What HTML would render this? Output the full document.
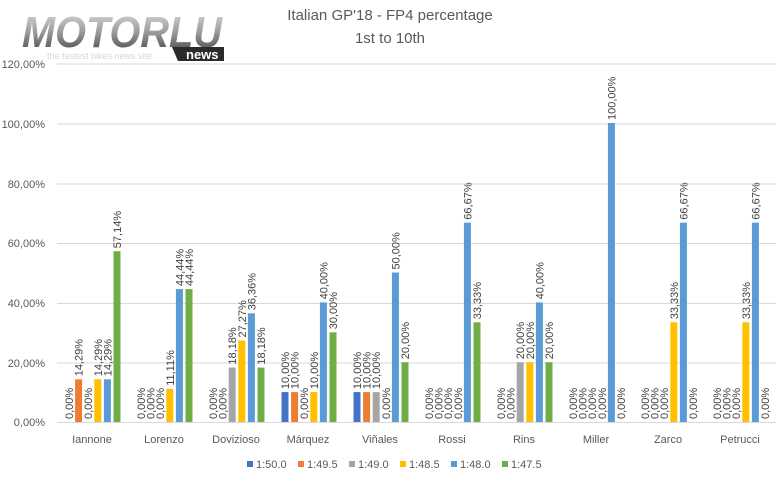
<!DOCTYPE html>
<html><head><meta charset="utf-8"><style>
body{margin:0;background:#fff}
svg{display:block;font-family:"Liberation Sans",sans-serif}
.l text{font-size:11px;fill:#404040}
</style></head><body>
<svg width="779" height="499" viewBox="0 0 779 499" xmlns="http://www.w3.org/2000/svg">
<rect width="779" height="499" fill="#fff"/>
<defs><linearGradient id="lg" x1="0" y1="0" x2="0" y2="1"><stop offset="0" stop-color="#e0e0e0"/><stop offset="0.5" stop-color="#9a9a9a"/><stop offset="1" stop-color="#3a3a3a"/></linearGradient></defs>
<text x="22" y="47" font-size="44" font-weight="bold" font-style="italic" fill="url(#lg)" textLength="200" lengthAdjust="spacingAndGlyphs">MOTORLU</text>
<text x="47" y="59" font-size="9" fill="#d8d8d8">the fastest bikes news site</text>
<polygon points="172,47 224,47 224,61 178,61" fill="#2a2a2a"/>
<text x="186" y="59" font-size="13" font-weight="bold" fill="#fff">news</text>
<text x="390" y="20" text-anchor="middle" font-size="15" fill="#595959">Italian GP'18 - FP4 percentage</text>
<text x="390" y="43" text-anchor="middle" font-size="15" fill="#595959">1st to 10th</text>
<g stroke="#d9d9d9" stroke-width="1">
<line x1="57" x2="776" y1="64" y2="64"/><line x1="57" x2="776" y1="124" y2="124"/><line x1="57" x2="776" y1="184" y2="184"/><line x1="57" x2="776" y1="243.5" y2="243.5"/><line x1="57" x2="776" y1="303.5" y2="303.5"/><line x1="57" x2="776" y1="363" y2="363"/><line x1="57" x2="776" y1="422.5" y2="422.5"/>
</g>
<g font-size="11" fill="#595959" text-anchor="end">
<text x="45" y="68">120,00%</text><text x="45" y="128">100,00%</text><text x="45" y="188">80,00%</text><text x="45" y="247">60,00%</text><text x="45" y="307">40,00%</text><text x="45" y="367">20,00%</text><text x="45" y="426">0,00%</text>
</g>
<g font-size="11" fill="#595959" text-anchor="middle">
<text x="92" y="443">Iannone</text><text x="164" y="443">Lorenzo</text><text x="236" y="443">Dovizioso</text><text x="308" y="443">Márquez</text><text x="380" y="443">Viñales</text><text x="452" y="443">Rossi</text><text x="524" y="443">Rins</text><text x="596" y="443">Miller</text><text x="668" y="443">Zarco</text><text x="740" y="443">Petrucci</text>
</g>
<!-- Iannone -->
<g class="l" transform="translate(65.5,0)">
<rect x="9.6" y="379.3" width="7" height="42.7" fill="#ED7D31"/><rect x="28.8" y="379.3" width="7" height="42.7" fill="#FFC000"/><rect x="38.4" y="379.3" width="7" height="42.7" fill="#5B9BD5"/><rect x="48" y="251.2" width="7" height="170.8" fill="#70AD47"/>
<text transform="translate(7.5,419) rotate(-90)">0,00%</text><text transform="translate(17.1,376.3) rotate(-90)">14,29%</text><text transform="translate(26.7,419) rotate(-90)">0,00%</text><text transform="translate(36.3,376.3) rotate(-90)">14,29%</text><text transform="translate(45.9,376.3) rotate(-90)">14,29%</text><text transform="translate(55.5,248.2) rotate(-90)">57,14%</text>
</g>
<!-- Lorenzo -->
<g class="l" transform="translate(137.5,0)">
<rect x="28.8" y="388.8" width="7" height="33.2" fill="#FFC000"/><rect x="38.4" y="289.1" width="7" height="132.9" fill="#5B9BD5"/><rect x="48" y="289.1" width="7" height="132.9" fill="#70AD47"/>
<text transform="translate(7.5,419) rotate(-90)">0,00%</text><text transform="translate(17.1,419) rotate(-90)">0,00%</text><text transform="translate(26.7,419) rotate(-90)">0,00%</text><text transform="translate(36.3,385.8) rotate(-90)">11,11%</text><text transform="translate(45.9,286.1) rotate(-90)">44,44%</text><text transform="translate(55.5,286.1) rotate(-90)">44,44%</text>
</g>
<!-- Dovizioso -->
<g class="l" transform="translate(209.5,0)">
<rect x="19.2" y="367.6" width="7" height="54.4" fill="#A5A5A5"/><rect x="28.8" y="340.5" width="7" height="81.5" fill="#FFC000"/><rect x="38.4" y="313.3" width="7" height="108.7" fill="#5B9BD5"/><rect x="48" y="367.6" width="7" height="54.4" fill="#70AD47"/>
<text transform="translate(7.5,419) rotate(-90)">0,00%</text><text transform="translate(17.1,419) rotate(-90)">0,00%</text><text transform="translate(26.7,364.6) rotate(-90)">18,18%</text><text transform="translate(36.3,337.5) rotate(-90)">27,27%</text><text transform="translate(45.9,310.3) rotate(-90)">36,36%</text><text transform="translate(55.5,364.6) rotate(-90)">18,18%</text>
</g>
<!-- Marquez -->
<g class="l" transform="translate(281.5,0)">
<rect x="0" y="392.1" width="7" height="29.9" fill="#4472C4"/><rect x="9.6" y="392.1" width="7" height="29.9" fill="#ED7D31"/><rect x="28.8" y="392.1" width="7" height="29.9" fill="#FFC000"/><rect x="38.4" y="302.4" width="7" height="119.6" fill="#5B9BD5"/><rect x="48" y="332.3" width="7" height="89.7" fill="#70AD47"/>
<text transform="translate(7.5,389.1) rotate(-90)">10,00%</text><text transform="translate(17.1,389.1) rotate(-90)">10,00%</text><text transform="translate(26.7,419) rotate(-90)">0,00%</text><text transform="translate(36.3,389.1) rotate(-90)">10,00%</text><text transform="translate(45.9,299.4) rotate(-90)">40,00%</text><text transform="translate(55.5,329.3) rotate(-90)">30,00%</text>
</g>
<!-- Vinales -->
<g class="l" transform="translate(353.5,0)">
<rect x="0" y="392.1" width="7" height="29.9" fill="#4472C4"/><rect x="9.6" y="392.1" width="7" height="29.9" fill="#ED7D31"/><rect x="19.2" y="392.1" width="7" height="29.9" fill="#A5A5A5"/><rect x="38.4" y="272.5" width="7" height="149.5" fill="#5B9BD5"/><rect x="48" y="362.2" width="7" height="59.8" fill="#70AD47"/>
<text transform="translate(7.5,389.1) rotate(-90)">10,00%</text><text transform="translate(17.1,389.1) rotate(-90)">10,00%</text><text transform="translate(26.7,389.1) rotate(-90)">10,00%</text><text transform="translate(36.3,419) rotate(-90)">0,00%</text><text transform="translate(45.9,269.5) rotate(-90)">50,00%</text><text transform="translate(55.5,359.2) rotate(-90)">20,00%</text>
</g>
<!-- Rossi -->
<g class="l" transform="translate(425.5,0)">
<rect x="38.4" y="222.7" width="7" height="199.3" fill="#5B9BD5"/><rect x="48" y="322.3" width="7" height="99.7" fill="#70AD47"/>
<text transform="translate(7.5,419) rotate(-90)">0,00%</text><text transform="translate(17.1,419) rotate(-90)">0,00%</text><text transform="translate(26.7,419) rotate(-90)">0,00%</text><text transform="translate(36.3,419) rotate(-90)">0,00%</text><text transform="translate(45.9,219.7) rotate(-90)">66,67%</text><text transform="translate(55.5,319.3) rotate(-90)">33,33%</text>
</g>
<!-- Rins -->
<g class="l" transform="translate(497.5,0)">
<rect x="19.2" y="362.2" width="7" height="59.8" fill="#A5A5A5"/><rect x="28.8" y="362.2" width="7" height="59.8" fill="#FFC000"/><rect x="38.4" y="302.4" width="7" height="119.6" fill="#5B9BD5"/><rect x="48" y="362.2" width="7" height="59.8" fill="#70AD47"/>
<text transform="translate(7.5,419) rotate(-90)">0,00%</text><text transform="translate(17.1,419) rotate(-90)">0,00%</text><text transform="translate(26.7,359.2) rotate(-90)">20,00%</text><text transform="translate(36.3,359.2) rotate(-90)">20,00%</text><text transform="translate(45.9,299.4) rotate(-90)">40,00%</text><text transform="translate(55.5,359.2) rotate(-90)">20,00%</text>
</g>
<!-- Miller -->
<g class="l" transform="translate(569.5,0)">
<rect x="38.4" y="123" width="7" height="299" fill="#5B9BD5"/>
<text transform="translate(7.5,419) rotate(-90)">0,00%</text><text transform="translate(17.1,419) rotate(-90)">0,00%</text><text transform="translate(26.7,419) rotate(-90)">0,00%</text><text transform="translate(36.3,419) rotate(-90)">0,00%</text><text transform="translate(45.9,120) rotate(-90)">100,00%</text><text transform="translate(55.5,419) rotate(-90)">0,00%</text>
</g>
<!-- Zarco -->
<g class="l" transform="translate(641.5,0)">
<rect x="28.8" y="322.3" width="7" height="99.7" fill="#FFC000"/><rect x="38.4" y="222.7" width="7" height="199.3" fill="#5B9BD5"/>
<text transform="translate(7.5,419) rotate(-90)">0,00%</text><text transform="translate(17.1,419) rotate(-90)">0,00%</text><text transform="translate(26.7,419) rotate(-90)">0,00%</text><text transform="translate(36.3,319.3) rotate(-90)">33,33%</text><text transform="translate(45.9,219.7) rotate(-90)">66,67%</text><text transform="translate(55.5,419) rotate(-90)">0,00%</text>
</g>
<!-- Petrucci -->
<g class="l" transform="translate(713.5,0)">
<rect x="28.8" y="322.3" width="7" height="99.7" fill="#FFC000"/><rect x="38.4" y="222.7" width="7" height="199.3" fill="#5B9BD5"/>
<text transform="translate(7.5,419) rotate(-90)">0,00%</text><text transform="translate(17.1,419) rotate(-90)">0,00%</text><text transform="translate(26.7,419) rotate(-90)">0,00%</text><text transform="translate(36.3,319.3) rotate(-90)">33,33%</text><text transform="translate(45.9,219.7) rotate(-90)">66,67%</text><text transform="translate(55.5,419) rotate(-90)">0,00%</text>
</g>
<!-- legend -->
<g font-size="11" fill="#595959">
<rect x="247" y="461" width="6" height="6" fill="#4472C4"/><text x="256" y="468">1:50.0</text>
<rect x="298" y="461" width="6" height="6" fill="#ED7D31"/><text x="307" y="468">1:49.5</text>
<rect x="349" y="461" width="6" height="6" fill="#A5A5A5"/><text x="358" y="468">1:49.0</text>
<rect x="400" y="461" width="6" height="6" fill="#FFC000"/><text x="409" y="468">1:48.5</text>
<rect x="451" y="461" width="6" height="6" fill="#5B9BD5"/><text x="460" y="468">1:48.0</text>
<rect x="502" y="461" width="6" height="6" fill="#70AD47"/><text x="511" y="468">1:47.5</text>
</g>
</svg>
</body></html>
